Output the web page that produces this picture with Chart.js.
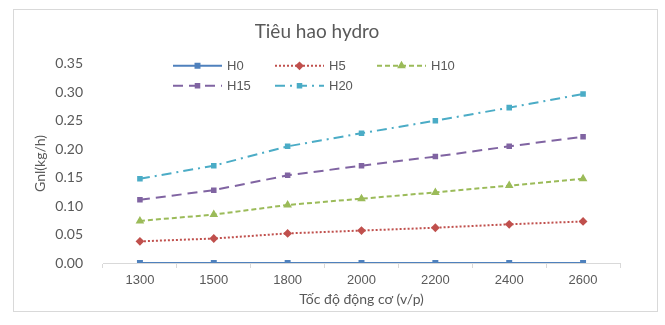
<!DOCTYPE html>
<html>
<head>
<meta charset="utf-8">
<script src="https://cdn.jsdelivr.net/npm/chart.js@4/dist/chart.umd.min.js"></script>
<style>
  html, body { margin: 0; padding: 0; background: #fff; }
  #wrap { width: 665px; height: 325px; }
</style>
</head>
<body>
<div id="wrap"><canvas id="chart" width="665" height="325"></canvas></div>
<script>
// data
const speeds = ["1300", "1500", "1800", "2000", "2200", "2400", "2600"];
const h0  = [0, 0, 0, 0, 0, 0, 0];
const h5  = [0.038, 0.043, 0.052, 0.057, 0.062, 0.068, 0.073];
const h10 = [0.074, 0.085, 0.102, 0.113, 0.124, 0.136, 0.148];
const h15 = [0.111, 0.128, 0.154, 0.171, 0.187, 0.205, 0.222];
const h20 = [0.148, 0.171, 0.205, 0.228, 0.250, 0.273, 0.297];
const yTicks = [0, 0.05, 0.10, 0.15, 0.20, 0.25, 0.30, 0.35];

const GREY = "#595959";

function series(label, data, color, dash, style, r) {
    return {
        label: label,
        data: data,
        borderColor: color,
        backgroundColor: color,
        borderWidth: 2,
        borderDash: dash,
        pointStyle: style,
        pointRadius: r,
        pointHoverRadius: r,
        tension: 0
    };
}

// frame around the whole chart, like the Excel chart area
const framePlugin = {
    id: "frame",
    beforeDraw(chart) {
        const ctx = chart.ctx;
        ctx.save();
        ctx.fillStyle = "#fff";
        ctx.fillRect(0, 0, chart.width, chart.height);
        ctx.strokeStyle = "#d9d9d9";
        ctx.lineWidth = 1;
        ctx.strokeRect(13.5, 9.5, 644, 302);
        ctx.restore();
    }
};

// legend drawn inside the plot, 3 items on first row, 2 on second
const legendPlugin = {
    id: "insideLegend",
    afterDatasetsDraw(chart) {
        const ctx = chart.ctx;
        const area = chart.chartArea;
        chart.data.datasets.forEach((ds, i) => {
            const row = i < 3 ? 0 : 1;
            const col = i < 3 ? i : i - 3;
            const x = area.left + 70 + col * 102;
            const y = area.top + 2 + row * 20;
            ctx.save();
            ctx.strokeStyle = ds.borderColor;
            ctx.lineWidth = 2;
            ctx.setLineDash(ds.borderDash || []);
            ctx.beginPath();
            ctx.moveTo(x, y);
            ctx.lineTo(x + 49, y);
            ctx.stroke();
            ctx.setLineDash([]);
            ctx.fillStyle = ds.backgroundColor;
            Chart.helpers.drawPoint(ctx, {
                pointStyle: ds.pointStyle,
                radius: ds.pointRadius,
                rotation: 0,
                borderWidth: 1
            }, x + 24.5, y);
            ctx.fillStyle = GREY;
            ctx.font = "13px 'Liberation Sans', Arial, sans-serif";
            ctx.textBaseline = "middle";
            ctx.fillText(ds.label, x + 54, y + 1);
            ctx.restore();
        });
    }
};

const ctx = document.getElementById("chart").getContext("2d");

new Chart(ctx, {
    type: "line",
    data: {
        labels: speeds,
        datasets: [
            series("H0", h0, "#4f81bd", [], "rect", 2.8),
            series("H5", h5, "#c0504d", [2, 2], "rectRot", 3),
            series("H10", h10, "#9bbb59", [5, 3], "triangle", 3),
            series("H15", h15, "#8064a2", [10, 6], "rect", 2.5),
            series("H20", h20, "#4bacc6", [10, 5, 2, 5], "rect", 2.5)
        ]
    },
    options: {
        responsive: false,
        animation: false,
        layout: {
            padding: { left: 14, right: 45, top: 10, bottom: 14 }
        },
        scales: {
            x: {
                offset: true,
                grid: {
                    offset: true,
                    drawOnChartArea: false,
                    color: "#d9d9d9",
                    tickLength: 5
                },
                border: { color: "#d9d9d9" },
                ticks: {
                    color: GREY,
                    padding: 5,
                    font: { family: "'Liberation Sans', Arial, sans-serif", size: 13 }
                },
                title: {
                    display: true,
                    text: "Tốc độ động cơ (v/p)",
                    color: GREY,
                    padding: { top: 2, bottom: 3 },
                    font: { family: "Lato, sans-serif", size: 14 }
                },
                afterFit(scale) { scale.height = 48; }
            },
            y: {
                min: 0,
                max: 0.35,
                afterBuildTicks(scale) {
                    scale.ticks = yTicks.map(v => ({ value: v }));
                },
                grid: { display: false },
                border: { display: false },
                ticks: {
                    color: GREY,
                    padding: 12,
                    font: { family: "Lato, sans-serif", size: 14 },
                    callback: v => Number(v).toFixed(2)
                },
                title: {
                    display: true,
                    text: "Gnl(kg/h)",
                    color: GREY,
                    padding: { top: 18, bottom: 0 },
                    font: { family: "Lato, sans-serif", size: 14 }
                },
                afterFit(scale) { scale.width = 89; }
            }
        },
        plugins: {
            legend: { display: false },
            tooltip: { enabled: false },
            title: {
                display: true,
                text: "Tiêu hao hydro",
                color: GREY,
                padding: { top: 10, bottom: 21 },
                font: { family: "Lato, sans-serif", size: 19, weight: "normal" }
            }
        }
    },
    plugins: [framePlugin, legendPlugin]
});
</script>
</body>
</html>
